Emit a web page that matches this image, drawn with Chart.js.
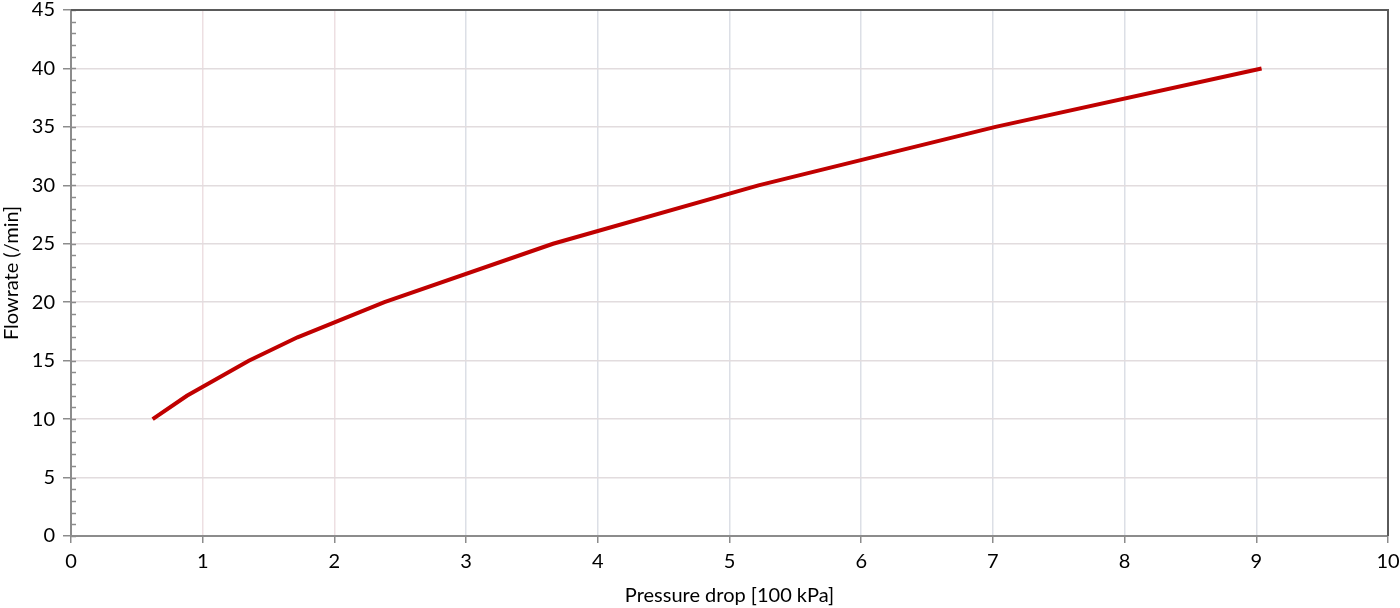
<!DOCTYPE html>
<html>
<head>
<meta charset="utf-8">
<script src="https://cdn.jsdelivr.net/npm/chart.js@4"></script>
<style>
  html, body { margin: 0; padding: 0; background: #fff; }
  #wrap { width: 1400px; height: 608px; }
</style>
</head>
<body>
<div id="wrap"><canvas id="chart" width="1400" height="608"></canvas></div>
<script>
// values
const pressureDrop = [0.62, 0.88, 1.35, 1.72, 2.38, 3.66, 5.22, 7.02, 9.04]
const flowrate = [10, 12, 15, 17, 20, 25, 30, 35, 40]

const lineColor = '#c00000'
const axisGray = '#8c8c8c'
const font = { family: 'Lato', size: 20 }

// inner minor ticks on the y axis plus the dark top / right frame
const frame = {
	id: 'frame',
	afterDraw(chart) {
		const { ctx, chartArea: a, scales } = chart
		const y = scales.y
		ctx.save()
		ctx.strokeStyle = axisGray
		ctx.lineWidth = 1.5
		for (let v = 0; v <= 45; v++) {
			const py = Math.round(y.getPixelForValue(v)) + 0.5
			ctx.beginPath()
			ctx.moveTo(a.left, py)
			ctx.lineTo(a.left + 5, py)
			ctx.stroke()
		}
		ctx.strokeStyle = '#5a5a5a'
		ctx.lineWidth = 2
		ctx.beginPath()
		ctx.moveTo(a.left, a.top)
		ctx.lineTo(a.right, a.top)
		ctx.lineTo(a.right, a.bottom)
		ctx.stroke()
		ctx.restore()
	},
}

new Chart(document.getElementById('chart'), {
	type: 'line',
	data: {
		datasets: [
			{
				label: 'Flowrate',
				data: pressureDrop.map((x, i) => ({ x, y: flowrate[i] })),
				borderColor: lineColor,
				backgroundColor: lineColor,
				borderWidth: 4,
				pointRadius: 0,
				tension: 0,
				fill: false,
			},
		],
	},
	options: {
		responsive: false,
		animation: false,
		layout: { padding: { top: 10, right: 12, left: 0, bottom: 0 } },
		plugins: { legend: { display: false }, tooltip: { enabled: false } },
		scales: {
			x: {
				type: 'linear',
				min: 0,
				max: 10,
				ticks: { stepSize: 1, color: '#000', font, padding: 7 },
				grid: {
					color: ctx => (ctx.tick && (ctx.tick.value === 1 || ctx.tick.value === 2) ? '#eddfe2' : '#dcdfe6'),
					lineWidth: 1.5,
					tickColor: axisGray,
					tickLength: 7,
				},
				border: { color: axisGray, width: 2 },
				title: {
					display: true,
					text: 'Pressure drop [100 kPa]',
					color: '#000',
					font,
					padding: { top: 0, bottom: 0 },
				},
				afterFit: s => {
					s.height = 72
					s.paddingLeft = 0
					s.paddingRight = 0
				},
			},
			y: {
				min: 0,
				max: 45,
				ticks: { stepSize: 5, color: '#000', font, padding: 8 },
				grid: { color: '#e2dcde', lineWidth: 1.5, tickColor: axisGray, tickLength: 8 },
				border: { color: axisGray, width: 2 },
				title: {
					display: true,
					text: 'Flowrate (/min]',
					color: '#000',
					font,
					padding: { top: 0, bottom: 0 },
				},
				afterFit: s => {
					s.width = 71
					s.paddingTop = 0
					s.paddingBottom = 0
				},
			},
		},
	},
	plugins: [frame],
})
</script>
</body>
</html>
